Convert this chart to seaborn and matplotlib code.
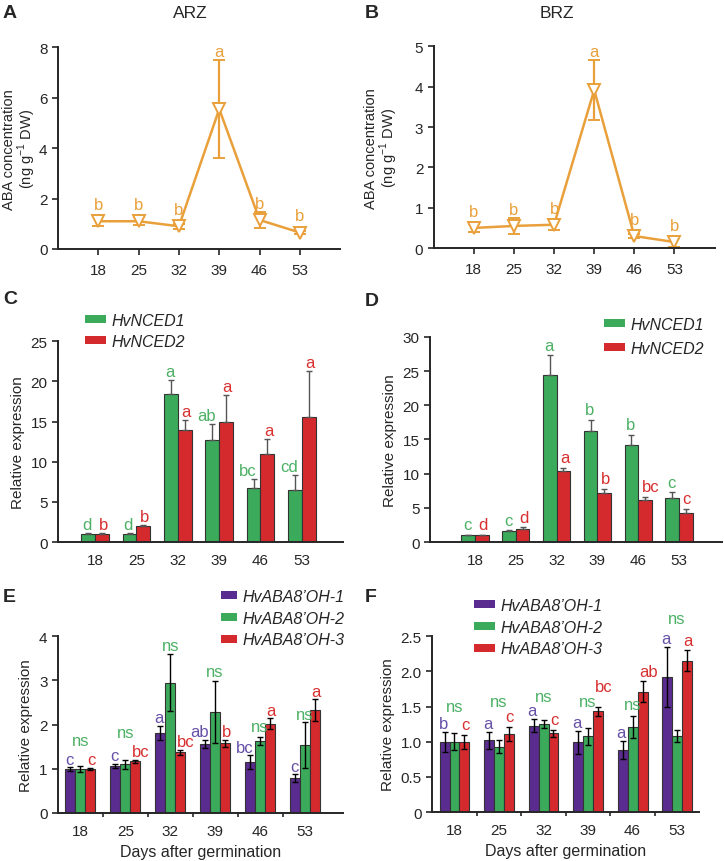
"""
ABA content and ABA metabolism gene expression - ARZ / BRZ panels
"""
import pandas as pd
import numpy as np
import seaborn as sns
import matplotlib.pyplot as plt
from matplotlib.patches import Patch

sns.set_style("ticks")
plt.rcParams["font.family"] = ["Liberation Sans", "DejaVu Sans"]
plt.rcParams["mathtext.fontset"] = "custom"
plt.rcParams["mathtext.rm"] = "Liberation Sans"
plt.rcParams["axes.linewidth"] = 1.4

days = ["18", "25", "32", "39", "46", "53"]

# A / B : ABA concentration (ng g-1 DW)
aba_arz = [1.1, 1.1, 0.9, 5.55, 1.15, 0.65]
aba_arz_err = [0.2, 0.15, 0.1, 1.95, 0.3, 0.05]
aba_arz_lab = ["b", "b", "b", "a", "b", "b"]
aba_brz = [0.5, 0.55, 0.58, 3.92, 0.3, 0.15]
aba_brz_err = [0.1, 0.2, 0.12, 0.75, 0.05, 0.12]
aba_brz_lab = ["b", "b", "b", "a", "b", "b"]

# C / D : NCED expression
nced_genes = ["HvNCED1", "HvNCED2"]
nced1_arz = [1.0, 1.0, 18.4, 12.7, 6.7, 6.5]
nced1_arz_err = [0.08, 0.08, 1.8, 2.0, 1.2, 1.8]
nced2_arz = [1.0, 2.0, 14.0, 14.9, 10.9, 15.6]
nced2_arz_err = [0.08, 0.15, 1.2, 3.4, 1.9, 5.7]
nced1_arz_lab = ["d", "d", "a", "ab", "bc", "cd"]
nced2_arz_lab = ["b", "b", "a", "a", "a", "a"]

nced1_brz = [1.0, 1.6, 24.5, 16.2, 14.2, 6.5]
nced1_brz_err = [0.08, 0.15, 2.8, 1.7, 1.5, 0.8]
nced2_brz = [1.0, 1.9, 10.4, 7.2, 6.1, 4.2]
nced2_brz_err = [0.1, 0.3, 0.5, 0.6, 0.5, 0.7]
nced1_brz_lab = ["c", "c", "a", "b", "b", "c"]
nced2_brz_lab = ["d", "d", "a", "b", "bc", "c"]

# E / F : ABA 8'-hydroxylase expression
oh_genes = ["HvABA8\u2019OH-1", "HvABA8\u2019OH-2", "HvABA8\u2019OH-3"]
oh1_arz = [1.0, 1.07, 1.82, 1.56, 1.15, 0.79]
oh1_arz_err = [0.04, 0.05, 0.16, 0.1, 0.16, 0.09]
oh2_arz = [1.0, 1.1, 2.95, 2.29, 1.62, 1.53]
oh2_arz_err = [0.07, 0.1, 0.65, 0.7, 0.09, 0.52]
oh3_arz = [1.0, 1.17, 1.37, 1.58, 2.02, 2.33]
oh3_arz_err = [0.02, 0.03, 0.06, 0.08, 0.12, 0.24]
oh1_arz_lab = ["c", "c", "a", "ab", "bc", "c"]
oh3_arz_lab = ["c", "bc", "bc", "b", "a", "a"]

oh1_brz = [1.0, 1.02, 1.23, 0.99, 0.88, 1.92]
oh1_brz_err = [0.14, 0.12, 0.09, 0.16, 0.13, 0.43]
oh2_brz = [1.0, 0.93, 1.25, 1.08, 1.21, 1.08]
oh2_brz_err = [0.12, 0.09, 0.06, 0.12, 0.16, 0.08]
oh3_brz = [1.0, 1.11, 1.12, 1.43, 1.71, 2.15]
oh3_brz_err = [0.1, 0.1, 0.05, 0.07, 0.15, 0.15]
oh1_brz_lab = ["b", "a", "a", "a", "a", "a"]
oh3_brz_lab = ["c", "c", "c", "bc", "ab", "a"]

ORANGE = "#E9A03B"
GREEN, RED, PURPLE = "#3BAA5A", "#D42A2E", "#5B2C8F"
T_GREEN, T_RED, T_PURPLE = "#4CB065", "#D83030", "#6650A8"

FS = 11
LFS = 12  # significance letters

fig = plt.figure(figsize=(7.24, 8.62), dpi=100)


def style(ax):
    sns.despine(ax=ax)
    ax.tick_params(axis="y", labelsize=FS, length=4, width=1.2, direction="out")
    ax.tick_params(axis="x", labelsize=FS)


def aba_panel(rect, vals, errs, labs, ymax, step, label_x):
    ax = fig.add_axes(rect)
    ax.errorbar(days, vals, yerr=errs, color=ORANGE, lw=1.8, marker="v",
                ms=9, mfc="white", mec=ORANGE, mew=1.4, capsize=4.5,
                elinewidth=1.6, capthick=1.6)
    for i, (v, e, t) in enumerate(zip(vals, errs, labs)):
        top = max(v + e, v + 0.04 * ymax)
        ax.text(i, top + 0.02 * ymax, t, color=ORANGE, ha="center",
                va="baseline", fontsize=LFS)
    ax.set_xlim(-1, 6)
    ax.set_ylim(0, ymax)
    ax.set_yticks(np.arange(0, ymax + 0.01, step))
    ax.set_ylabel("ABA concentration\n(ng g$^{\\mathregular{-1}}$ DW)",
                  fontsize=FS - 0.5, linespacing=1.0)
    ax.yaxis.set_label_coords(label_x, 0.5)
    style(ax)
    ax.tick_params(axis="x", length=4, width=1.2, pad=6)
    return ax


def bar_panel(rect, genes, series, errs, palette, two_sided):
    ax = fig.add_axes(rect)
    df = pd.DataFrame({
        "day": np.tile(days, len(genes)),
        "gene": np.repeat(genes, len(days)),
        "value": np.concatenate(series),
    })
    sns.barplot(data=df, x="day", y="value", hue="gene", palette=palette,
                saturation=1, width=0.67, edgecolor="#333333", linewidth=0.8,
                errorbar=None, legend=False, ax=ax)
    bar_groups = list(ax.containers)
    centers = []
    for k, cont in enumerate(bar_groups):
        xs = [b.get_x() + b.get_width() / 2 for b in cont]
        centers.append(xs)
        if two_sided:
            ax.errorbar(xs, series[k], yerr=errs[k], fmt="none", ecolor="black",
                        elinewidth=1.0, capsize=2.5, capthick=1.0)
        else:
            ax.errorbar(xs, series[k], yerr=[np.zeros(len(days)), errs[k]],
                        fmt="none", ecolor="#555555", elinewidth=1.0,
                        capsize=2.5, capthick=1.0)
    ax.set_xlabel("")
    ax.set_ylabel("Relative expression", fontsize=FS)
    style(ax)
    ax.tick_params(axis="x", length=0, pad=8)
    return ax, centers


def put_labels(ax, xs, vals, errs, labs, color, pad, side, lift=None):
    # side: 'left' bar of a group -> text hangs left, 'right' -> hangs right
    lift = lift or {}
    ha, dx = ("right", 2.5) if side == "left" else ("left", -2.5)
    for i, (x, v, e, t) in enumerate(zip(xs, vals, errs, labs)):
        ax.annotate(t, (x, v + e + pad + lift.get(i, 0)), xytext=(dx, 0),
                    textcoords="offset points", color=color, ha=ha,
                    va="baseline", fontsize=LFS)


def add_legend(genes, colors, anchor, hlen, spacing):
    handles = [Patch(facecolor=c, edgecolor="none", label=g)
               for g, c in zip(genes, colors)]
    fig.legend(handles=handles, loc="upper left", bbox_to_anchor=anchor,
               bbox_transform=fig.transFigure, frameon=False,
               prop={"style": "italic", "size": FS + 0.5},
               handlelength=hlen, handleheight=0.4, handletextpad=0.35,
               labelspacing=spacing, borderpad=0, borderaxespad=0)


# ---- A / B
axA = aba_panel([0.080, 0.710, 0.390, 0.234], aba_arz, aba_arz_err,
                aba_arz_lab, 8, 2, -0.07)
axB = aba_panel([0.599, 0.711, 0.388, 0.234], aba_brz, aba_brz_err,
                aba_brz_lab, 5, 1, -0.12)
fig.text(190 / 724, 1 - 13 / 862, "ARZ", ha="center", va="center", fontsize=FS + 1.5)
fig.text(557 / 724, 1 - 13 / 862, "BRZ", ha="center", va="center", fontsize=FS + 1.5)

# ---- C
axC, cC = bar_panel([0.080, 0.370, 0.394, 0.233], nced_genes,
                    [nced1_arz, nced2_arz], [nced1_arz_err, nced2_arz_err],
                    [GREEN, RED], False)
axC.set_ylim(0, 25)
axC.set_yticks(range(0, 26, 5))
axC.set_xlim(-0.9, 6)
put_labels(axC, cC[0], nced1_arz, nced1_arz_err, nced1_arz_lab, T_GREEN, 0.5, "left")
put_labels(axC, cC[1], nced2_arz, nced2_arz_err, nced2_arz_lab, T_RED, 0.5, "right")
add_legend(nced_genes, [GREEN, RED], (85 / 724, 1 - 314 / 862), 1.3, 0.35)

# ---- D
axD, cD = bar_panel([0.594, 0.370, 0.403, 0.238], nced_genes,
                    [nced1_brz, nced2_brz], [nced1_brz_err, nced2_brz_err],
                    [GREEN, RED], False)
axD.set_ylim(0, 30)
axD.set_yticks(range(0, 31, 5))
axD.set_xlim(-1.1, 6.05)
put_labels(axD, cD[0], nced1_brz, nced1_brz_err, nced1_brz_lab, T_GREEN, 0.8, "left")
put_labels(axD, cD[1], nced2_brz, nced2_brz_err, nced2_brz_lab, T_RED, 0.8, "right")
add_legend(nced_genes, [GREEN, RED], (604 / 724, 1 - 318 / 862), 1.3, 0.55)

# ---- E
axE, cE = bar_panel([0.080, 0.0557, 0.394, 0.205], oh_genes,
                    [oh1_arz, oh2_arz, oh3_arz],
                    [oh1_arz_err, oh2_arz_err, oh3_arz_err],
                    [PURPLE, GREEN, RED], True)
axE.set_ylim(0, 4)
axE.set_yticks(range(0, 5))
axE.set_xlim(-0.5, 5.85)
put_labels(axE, cE[0], oh1_arz, oh1_arz_err, oh1_arz_lab, T_PURPLE, 0.08, "left")
put_labels(axE, cE[2], oh3_arz, oh3_arz_err, oh3_arz_lab, T_RED, 0.08, "right")
ns_y_E = [1.53, 1.71, 3.70, 3.10, 1.86, 2.13]
for x, y in zip(cE[1], ns_y_E):
    axE.text(x, y, "ns", color=T_GREEN, ha="center", va="baseline", fontsize=LFS)
axE.set_xticks(np.arange(0.5, 5, 1), minor=True)
axE.tick_params(axis="x", which="minor", length=3, width=1.2, direction="out")
axE.set_xlabel("Days after germination", fontsize=FS + 0.5)
add_legend(oh_genes, [PURPLE, GREEN, RED], (221 / 724, 1 - 590 / 862), 1.0, 0.42)

# ---- F
axF, cF = bar_panel([0.597, 0.0568, 0.369, 0.204], oh_genes,
                    [oh1_brz, oh2_brz, oh3_brz],
                    [oh1_brz_err, oh2_brz_err, oh3_brz_err],
                    [PURPLE, GREEN, RED], True)
axF.set_ylim(0, 2.5)
axF.set_yticks(np.arange(0, 2.51, 0.5))
axF.set_yticklabels(["0", "0.5", "1.0", "1.5", "2.0", "2.5"])
axF.set_xlim(-0.5, 5.5)
put_labels(axF, cF[0], oh1_brz, oh1_brz_err, oh1_brz_lab, T_PURPLE, 0.06, "left")
put_labels(axF, cF[2], oh3_brz, oh3_brz_err, oh3_brz_lab, T_RED, 0.08, "right",
           lift={3: 0.14})
ns_y_F = [1.44, 1.51, 1.58, 1.51, 1.46, 2.69]
for x, y in zip(cF[1], ns_y_F):
    axF.text(x, y, "ns", color=T_GREEN, ha="center", va="baseline", fontsize=LFS)
axF.set_xticks(np.arange(0.5, 5, 1), minor=True)
axF.tick_params(axis="x", which="minor", length=3, width=1.2, direction="out")
axF.set_xlabel("Days after germination", fontsize=FS + 0.5)
add_legend(oh_genes, [PURPLE, GREEN, RED], (474 / 724, 1 - 599 / 862), 1.3, 0.42)

# ---- panel letters
for t, (px, py) in zip("ABCDEF", [(3, 13), (365, 13), (3, 300), (365, 302),
                                   (3, 598), (365, 598)]):
    fig.text(px / 724, 1 - py / 862, t, fontsize=FS + 3, fontweight="bold",
             ha="left", va="center")

plt.savefig("out.png", dpi=100)
